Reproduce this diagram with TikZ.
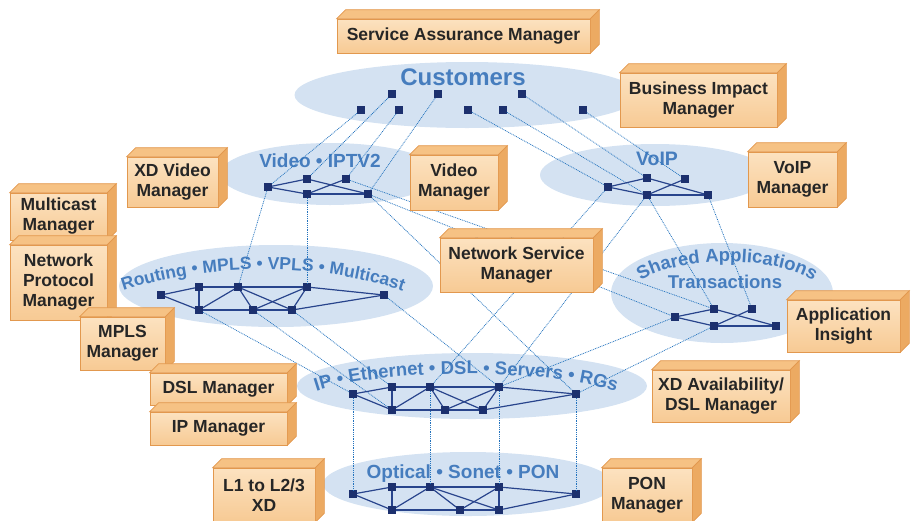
\documentclass[tikz,border=0pt]{standalone}
\usepackage{fontspec}
\setmainfont{Liberation Sans}
\usetikzlibrary{shapes.geometric,decorations.text}
\definecolor{lyrfill}{RGB}{212,226,242}
\definecolor{lyrtxt}{RGB}{70,125,190}
\definecolor{devcol}{RGB}{28,48,110}
\definecolor{lnkcol}{RGB}{40,68,140}
\definecolor{dotcol}{RGB}{35,115,190}
\definecolor{boxfront}{RGB}{250,215,170}
\definecolor{boxfronttop}{RGB}{252,226,192}
\definecolor{boxfrontbot}{RGB}{247,202,148}
\definecolor{boxtop}{RGB}{246,194,132}
\definecolor{boxside}{RGB}{236,170,98}
\definecolor{boxline}{RGB}{226,152,78}
\tikzstyle{layer}=[ellipse, fill=lyrfill, inner sep=0pt]
\tikzstyle{dev}=[rectangle, fill=devcol, inner sep=0pt, minimum size=7.5pt]
\tikzstyle{link}=[line width=1.2pt, lnkcol]
\tikzstyle{dlink}=[line width=0.75pt, dotcol, dash pattern=on 0.9pt off 0.9pt]
\tikzstyle{mgr}=[rectangle, draw=boxline, top color=boxfronttop, bottom color=boxfrontbot, line width=0.7pt, align=center, inner sep=1pt, font=\fontsize{17.5}{20}\selectfont\bfseries, text=black!85]
\tikzstyle{lbl}=[text=lyrtxt, anchor=base]
\newcommand{\arcfont}{\fontsize{17.5}{19}\selectfont\bfseries\color{lyrtxt}}
\newcommand{\arcfontb}{\fontsize{18.5}{20}\selectfont\bfseries\color{lyrtxt}}
\newcommand{\boxdepth}{9pt}
\newcommand{\mgrfaces}[1]{%
  \filldraw[boxline, fill=boxtop, line width=0.7pt] (#1.north west) -- ++(\boxdepth,\boxdepth) -- ([shift={(\boxdepth,\boxdepth)}]#1.north east) -- (#1.north east) -- cycle;
  \filldraw[boxline, fill=boxside, line width=0.7pt] (#1.north east) -- ++(\boxdepth,\boxdepth) -- ([shift={(\boxdepth,\boxdepth)}]#1.south east) -- (#1.south east) -- cycle;}

\begin{document}
\begin{tikzpicture}[x=1pt,y=-1pt]
	\useasboundingbox (0,0) rectangle (915,520);
	% layers
	\node[layer, minimum width=345pt, minimum height=66pt] (cust) at (467,95) {};
	\node[layer, minimum width=220pt, minimum height=62pt] (video) at (330,174) {};
	\node[layer, minimum width=230pt, minimum height=62pt] (voip) at (655,175) {};
	\node[layer, minimum width=314pt, minimum height=82pt] (routing) at (276,286) {};
	\node[layer, minimum width=222pt, minimum height=100pt] (shared) at (722,293) {};
	\node[layer, minimum width=350pt, minimum height=66pt] (ipl) at (472,386) {};
	\node[layer, minimum width=290pt, minimum height=64pt] (optical) at (468,484) {};
	\node[lbl, font=\fontsize{24}{26}\selectfont\bfseries] (custlbl) at (463,85) {Customers};
	\node[lbl, font=\fontsize{19}{21}\selectfont\bfseries] (videolbl) at (320,167) {Video • IPTV2};
	\node[lbl, font=\fontsize{19.5}{21}\selectfont\bfseries] (voiplbl) at (657,165) {VoIP};
	\node[lbl, font=\fontsize{18.5}{20}\selectfont\bfseries] (sharedlbl) at (725,288) {Transactions};
	\node[lbl, font=\fontsize{19}{21}\selectfont\bfseries] (opticallbl) at (463,478) {Optical • Sonet • PON};
	\path[decorate, decoration={text along path, text align=center, text={|\arcfont|Routing • MPLS • VPLS • Multicast}}] (120,292) .. controls (205,262) and (320,262) .. (406,292);
	\path[decorate, decoration={text along path, text align=center, text={|\arcfontb|Shared Applications}}] (636,285) .. controls (670,254) and (785,254) .. (818,285);
	\path[decorate, decoration={text along path, text align=center, text={|\arcfontb|IP • Ethernet • DSL • Servers • RGs}}] (300,398) .. controls (360,366) and (570,366) .. (632,398);
	% devices
	\node[dev] (c1) at (361,110) {};
	\node[dev] (c2) at (392,94) {};
	\node[dev] (c3) at (399,110) {};
	\node[dev] (c4) at (438,94) {};
	\node[dev] (c5) at (468,110) {};
	\node[dev] (c6) at (503,110) {};
	\node[dev] (c7) at (522,94) {};
	\node[dev] (c8) at (583,110) {};
	\node[dev] (v1) at (268,187) {};
	\node[dev] (v2) at (307,179) {};
	\node[dev] (v3) at (346,179) {};
	\node[dev] (v4) at (307,194) {};
	\node[dev] (v5) at (368,194) {};
	\node[dev] (p1) at (608,187) {};
	\node[dev] (p2) at (647,178) {};
	\node[dev] (p3) at (685,179) {};
	\node[dev] (p4) at (647,195) {};
	\node[dev] (p5) at (708,195) {};
	\node[dev] (s1) at (675,317) {};
	\node[dev] (s2) at (714,309) {};
	\node[dev] (s3) at (752,309) {};
	\node[dev] (s4) at (714,326) {};
	\node[dev] (s5) at (776,326) {};
	\node[dev] (r1) at (161,295) {};
	\node[dev] (r2) at (199,287) {};
	\node[dev] (r3) at (238,287) {};
	\node[dev] (r4) at (307,287) {};
	\node[dev] (r5) at (384,295) {};
	\node[dev] (r6) at (199,310) {};
	\node[dev] (r7) at (253,310) {};
	\node[dev] (r8) at (292,310) {};
	\node[dev] (i1) at (353,394) {};
	\node[dev] (i2) at (392,387) {};
	\node[dev] (i3) at (430,387) {};
	\node[dev] (i4) at (499,387) {};
	\node[dev] (i5) at (576,394) {};
	\node[dev] (i6) at (392,410) {};
	\node[dev] (i7) at (445,410) {};
	\node[dev] (i8) at (483,410) {};
	\node[dev] (o1) at (353,494) {};
	\node[dev] (o2) at (392,487) {};
	\node[dev] (o3) at (430,487) {};
	\node[dev] (o4) at (499,487) {};
	\node[dev] (o5) at (576,494) {};
	\node[dev] (o6) at (392,510) {};
	\node[dev] (o7) at (460,510) {};
	\node[dev] (o8) at (499,510) {};
	% dotted links between layers
	\draw[dlink] (c1)edge(v1) (c2)edge(v2) (c3)edge(v3) (c4)edge(v5) (c5)edge(p1) (c6)edge(p4) (c7)edge(p2) (c8)edge(p3)
		(v1)edge(r3) (v4)edge(r4) (v3)edge(s2) (v5)edge(s1) (v5)edge(i5)
		(p4)edge(s2) (p5)edge(s3) (p1)edge(i3) (p4)edge(i4)
		(r5)edge(i4) (r6)edge(i1) (r7)edge(i6) (r8)edge(i2) (i4)edge(s1) (i5)edge(s4)
		(i1)edge(o1) (i3)edge(o3) (i4)edge(o4) (i5)edge(o5) ;
	% links inside layers
	\draw[link] (v1)edge(v2) (v1)edge(v4) (v2)edge(v5) (v4)edge(v3) (v4)edge(v5) ;
	\draw[link] (p1)edge(p2) (p1)edge(p4) (p2)edge(p5) (p4)edge(p3) (p4)edge(p5) ;
	\draw[link] (s1)edge(s2) (s1)edge(s4) (s2)edge(s5) (s4)edge(s3) (s4)edge(s5) ;
	\draw[link] (r1)edge(r2) (r1)edge(r6) (r2)edge(r6) (r2)edge(r3) (r3)edge(r4) (r4)edge(r5) (r6)edge(r7) (r7)edge(r8) (r8)edge(r5)
		(r6)edge(r3) (r3)edge(r7) (r3)edge(r8) (r7)edge(r4) (r8)edge(r4) ;
	\draw[link] (i1)edge(i2) (i1)edge(i6) (i2)edge(i6) (i2)edge(i3) (i3)edge(i4) (i4)edge(i5) (i6)edge(i7) (i7)edge(i8) (i8)edge(i5)
		(i6)edge(i3) (i3)edge(i7) (i3)edge(i8) (i7)edge(i4) (i8)edge(i4) ;
	\draw[link] (o1)edge(o2) (o1)edge(o6) (o2)edge(o6) (o2)edge(o3) (o3)edge(o4) (o4)edge(o5) (o6)edge(o7) (o7)edge(o8) (o8)edge(o5)
		(o6)edge(o3) (o3)edge(o7) (o3)edge(o8) (o7)edge(o4) (o8)edge(o4) ;
	% managers
	\node[mgr, minimum width=253pt, minimum height=34pt] (sam) at (463.5,36) {Service Assurance Manager};
	\mgrfaces{sam}
	\node[mgr, minimum width=157pt, minimum height=54pt] (bim) at (698.5,100) {Business Impact\\Manager};
	\mgrfaces{bim}
	\node[mgr, minimum width=91pt, minimum height=50pt] (xdvm) at (172.5,182) {XD Video\\Manager};
	\mgrfaces{xdvm}
	\node[mgr, minimum width=88pt, minimum height=55pt] (vm) at (454,182.5) {Video\\Manager};
	\mgrfaces{vm}
	\node[mgr, minimum width=89pt, minimum height=55pt] (voipm) at (792.5,179.5) {VoIP\\Manager};
	\mgrfaces{voipm}
	\node[mgr, minimum width=97pt, minimum height=47pt] (mcm) at (58.5,216.5) {Multicast\\Manager};
	\mgrfaces{mcm}
	\node[mgr, minimum width=97pt, minimum height=75pt] (npm) at (58.5,282.5) {Network\\Protocol\\Manager};
	\mgrfaces{npm}
	\node[mgr, minimum width=85pt, minimum height=53pt] (mplsm) at (122.5,343.5) {MPLS\\Manager};
	\mgrfaces{mplsm}
	\node[mgr, minimum width=153pt, minimum height=54pt] (nsm) at (516.5,265) {Network Service\\Manager};
	\mgrfaces{nsm}
	\node[mgr, minimum width=113pt, minimum height=52pt] (aim) at (843.5,326) {Application\\Insight};
	\mgrfaces{aim}
	\node[mgr, minimum width=137pt, minimum height=32pt] (dslm) at (218.5,389) {DSL Manager};
	\mgrfaces{dslm}
	\node[mgr, minimum width=137pt, minimum height=33pt] (ipm) at (218.5,428.5) {IP Manager};
	\mgrfaces{ipm}
	\node[mgr, minimum width=138pt, minimum height=52pt] (xdam) at (721,396) {XD Availability/\\DSL Manager};
	\mgrfaces{xdam}
	\node[mgr, minimum width=102pt, minimum height=54pt] (l1m) at (264,495) {L1 to L2/3\\XD};
	\mgrfaces{l1m}
	\node[mgr, minimum width=90pt, minimum height=54pt] (ponm) at (647,495) {PON\\Manager};
	\mgrfaces{ponm}
\end{tikzpicture}
\end{document}
